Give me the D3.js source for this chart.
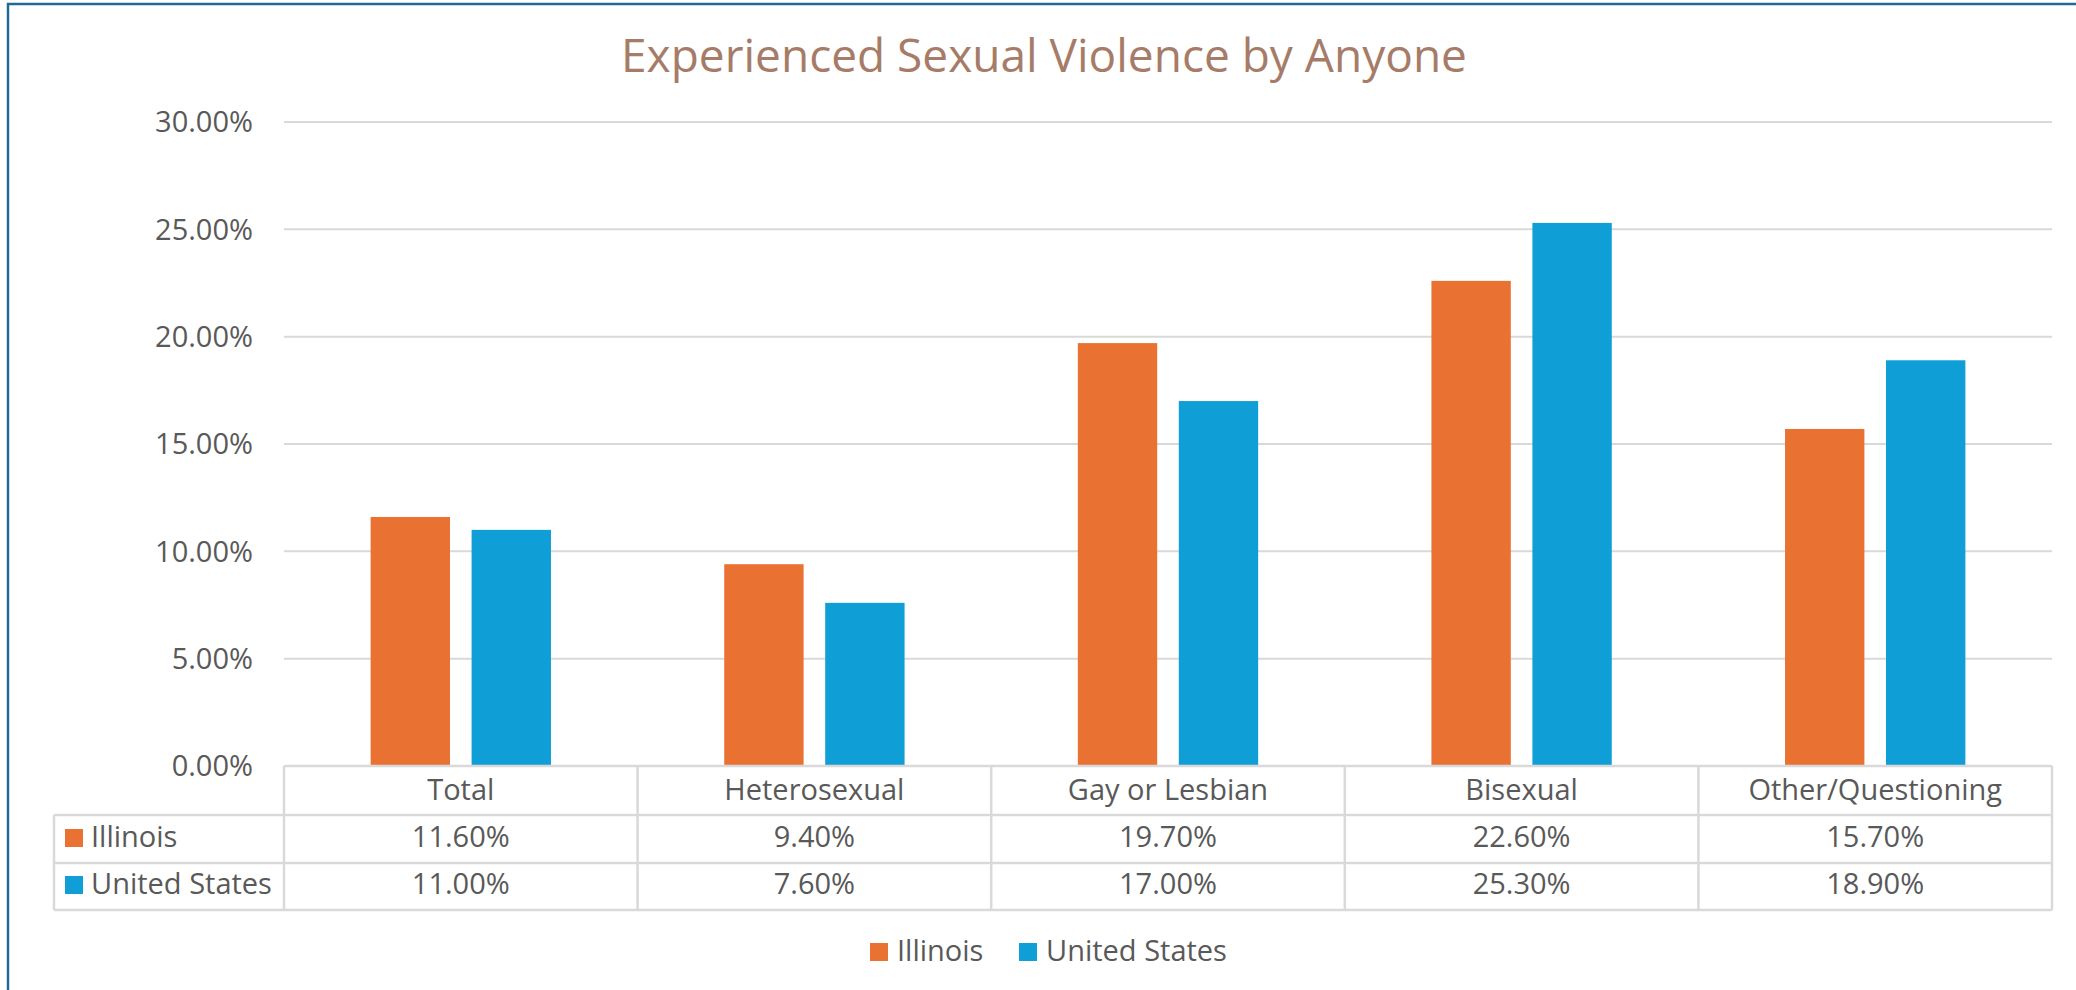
<!DOCTYPE html>
<html>
<head>
<meta charset="utf-8">
<script src="https://cdn.jsdelivr.net/npm/d3@7"></script>
<style>
  html, body { margin: 0; padding: 0; background: #fff; }
  svg { display: block; font-family: "Open Sans", "Noto Sans", sans-serif; }
</style>
</head>
<body>
<svg id="chart" width="2076" height="990"></svg>
<script>
const titleText = "Experienced Sexual Violence by Anyone";
const categories = ["Total", "Heterosexual", "Gay or Lesbian", "Bisexual", "Other/Questioning"];
const seriesNames = ["Illinois", "United States"];
const illinoisValues = [11.6, 9.4, 19.7, 22.6, 15.7];
const usValues = [11.0, 7.6, 17.0, 25.3, 18.9];
const yTicks = [0, 5, 10, 15, 20, 25, 30];
const colors = ["#E97132", "#0F9ED5"];

const seriesValues = [illinoisValues, usValues];
const textColor = "#595959";
const gridColor = "#d9d9d9";
const fontSize = 29;

const svg = d3.select("#chart");

// frame border (left and top)
svg.append("path")
  .attr("d", "M8,990 L8,4 L2076,4")
  .attr("fill", "none")
  .attr("stroke", "#1d6a94")
  .attr("stroke-width", 2.5);

const plot = { left: 284, right: 2052, top: 122, bottom: 766 };

const x = d3.scaleBand().domain(categories).range([plot.left, plot.right]).padding(0);
const bw = x.bandwidth();
const x1 = d3.scaleBand().domain(seriesNames)
  .range([bw * 0.245, bw * 0.755]).paddingInner(0.214).paddingOuter(0);
const y = d3.scaleLinear().domain([0, 30]).range([plot.bottom, plot.top]);

// title
svg.append("text")
  .attr("x", 1044).attr("y", 72)
  .attr("text-anchor", "middle")
  .attr("fill", "#A67C68")
  .attr("font-size", 46)
  .text(titleText);

// gridlines
svg.append("g").selectAll("line").data(yTicks.filter(t => t > 0)).join("line")
  .attr("x1", plot.left).attr("x2", plot.right)
  .attr("y1", d => y(d)).attr("y2", d => y(d))
  .attr("stroke", gridColor).attr("stroke-width", 2);

// y axis labels
const yAxis = d3.axisLeft(y).tickValues(yTicks).tickSize(0).tickPadding(0)
  .tickFormat(d => d.toFixed(2) + "%");
const yg = svg.append("g").attr("transform", `translate(253,0)`).call(yAxis);
yg.select(".domain").remove();
yg.selectAll("text").attr("font-size", fontSize).attr("fill", textColor)
  .attr("font-family", '"Open Sans", sans-serif').attr("dy", "0.34em");

// bars
const groups = svg.append("g").selectAll("g").data(categories).join("g")
  .attr("transform", d => `translate(${x(d)},0)`);
groups.selectAll("rect").data((d, i) => seriesNames.map((s, j) => ({ s, j, v: seriesValues[j][i] })))
  .join("rect")
  .attr("x", d => x1(d.s))
  .attr("width", x1.bandwidth())
  .attr("y", d => y(d.v))
  .attr("height", d => y(0) - y(d.v))
  .attr("fill", d => colors[d.j]);

// data table
const rowTop = [766, 815, 863];
const rowBottom = 910;
const legendLeft = 54;
const tbl = svg.append("g");
const lineAttr = sel => sel.attr("stroke", gridColor).attr("stroke-width", 2.5).attr("fill", "none");

tbl.append("line").attr("x1", plot.left).attr("x2", plot.right).attr("y1", rowTop[0]).attr("y2", rowTop[0]).call(lineAttr);
[rowTop[1], rowTop[2], rowBottom].forEach(yy => {
  tbl.append("line").attr("x1", legendLeft).attr("x2", plot.right).attr("y1", yy).attr("y2", yy).call(lineAttr);
});
tbl.append("line").attr("x1", legendLeft).attr("x2", legendLeft).attr("y1", rowTop[1]).attr("y2", rowBottom).call(lineAttr);
const vxs = categories.map(c => x(c)).concat([plot.right]);
vxs.forEach(vx => {
  tbl.append("line").attr("x1", vx).attr("x2", vx).attr("y1", rowTop[0]).attr("y2", rowBottom).call(lineAttr);
});

// header labels
const xAxis = d3.axisBottom(x).tickSize(0).tickPadding(0);
const xg = svg.append("g").attr("transform", `translate(0,0)`).call(xAxis);
xg.select(".domain").remove();
xg.selectAll("text").attr("font-size", fontSize).attr("fill", textColor)
  .attr("font-family", '"Open Sans", sans-serif').attr("y", 800).attr("dy", null);

// value rows
const rowBaselines = [847, 894];
seriesNames.forEach((s, j) => {
  tbl.append("rect").attr("x", 65).attr("y", rowBaselines[j] - 18).attr("width", 18).attr("height", 18).attr("fill", colors[j]);
  tbl.append("text").attr("x", 91).attr("y", rowBaselines[j])
    .attr("font-size", fontSize).attr("fill", textColor).text(s);
  tbl.selectAll(null).data(categories).join("text")
    .attr("x", d => x(d) + bw / 2).attr("y", rowBaselines[j])
    .attr("text-anchor", "middle").attr("font-size", fontSize).attr("fill", textColor)
    .text((d, i) => seriesValues[j][i].toFixed(2) + "%");
});

// legend
const legendX = [870, 1019];
const legend = svg.append("g");
seriesNames.forEach((s, j) => {
  legend.append("rect").attr("x", legendX[j]).attr("y", 943).attr("width", 18).attr("height", 18).attr("fill", colors[j]);
  legend.append("text").attr("x", legendX[j] + 27).attr("y", 961)
    .attr("font-size", fontSize).attr("fill", textColor).text(s);
});
</script>
</body>
</html>
